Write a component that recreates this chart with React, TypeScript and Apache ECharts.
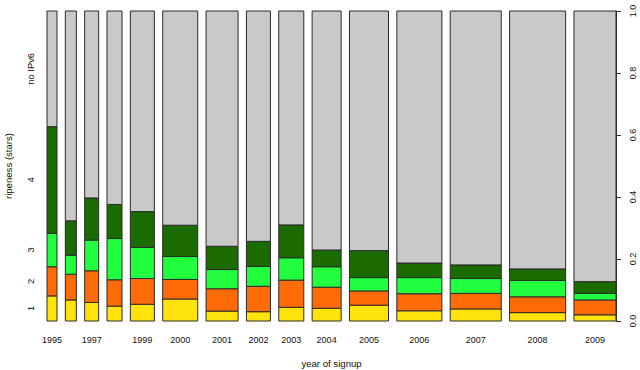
import React, { useEffect, useRef } from "react";
import * as echarts from "echarts";

const years = ["1995","1996","1997","1998","1999","2000","2001","2002","2003","2004","2005","2006","2007","2008","2009"];
const shownYearLabels = ["1995","1997","1999","2000","2001","2002","2003","2004","2005","2006","2007","2008","2009"];
const counts = [10, 11, 14, 15, 24, 35, 32, 24, 25, 29, 39, 45, 51, 56, 42];
const levels = ["1", "2", "3", "4", "no IPv6"];
const share1 = [0.081, 0.068, 0.060, 0.048, 0.054, 0.071, 0.032, 0.030, 0.044, 0.041, 0.051, 0.033, 0.039, 0.027, 0.020];
const share2 = [0.094, 0.083, 0.102, 0.085, 0.083, 0.063, 0.072, 0.082, 0.088, 0.068, 0.046, 0.055, 0.050, 0.051, 0.048];
const share3 = [0.108, 0.061, 0.099, 0.133, 0.100, 0.074, 0.062, 0.064, 0.072, 0.066, 0.043, 0.052, 0.048, 0.053, 0.021];
const share4 = [0.344, 0.111, 0.136, 0.110, 0.116, 0.101, 0.075, 0.081, 0.106, 0.054, 0.087, 0.047, 0.044, 0.037, 0.038];
const shareNo = years.map((_, i) => 1 - share1[i] - share2[i] - share3[i] - share4[i]);
const shares = [share1, share2, share3, share4, shareNo];
const colors = ["#FFE30A", "#FF6B06", "#21FF3F", "#1B6C00", "#C9C9C9"];

const GAP_FRAC = 0.0184;

export default function App() {
  const ref = useRef<HTMLDivElement>(null);
  useEffect(() => {
    document.body.style.margin = "0";
    if (!ref.current) return;
    const chart = echarts.init(ref.current, null, { renderer: "svg" });
    const total = counts.reduce((a, b) => a + b, 0);
    const gap = GAP_FRAC * total;
    const starts: number[] = [];
    let acc = 0;
    counts.forEach((c, i) => {
      starts.push(acc);
      acc += c + (i < counts.length - 1 ? gap : 0);
    });
    const xMax = acc;
    const centers = counts.map((c, i) => starts[i] + c / 2);
    const cells: number[][] = [];
    years.forEach((_, i) => {
      let y0 = 0;
      shares.forEach((s, l) => {
        const y1 = y0 + s[i];
        cells.push([starts[i], starts[i] + counts[i], y0, y1, l]);
        y0 = y1;
      });
    });
    const firstMids: number[] = [];
    {
      let y0 = 0;
      shares.forEach((s) => {
        firstMids.push(y0 + s[0] / 2);
        y0 += s[0];
      });
    }
    const shownCenters = years
      .map((y, i) => (shownYearLabels.includes(y) ? centers[i] : null))
      .filter((v) => v !== null) as number[];
    const font = "Liberation Sans, Arial, sans-serif";
    const txt = "#111";

    chart.setOption({
      animation: false,
      grid: { left: 47, right: 24, top: 11, bottom: 49, outerBoundsMode: "none", containLabel: false },
      xAxis: {
        type: "value",
        min: 0,
        max: xMax,
        axisLine: { show: false },
        axisTick: { show: false },
        splitLine: { show: false },
        axisLabel: {
          customValues: shownCenters,
          margin: 14,
          fontSize: 9,
          fontFamily: font,
          color: txt,
          formatter: (v: number) => {
            const idx = centers.findIndex((c) => Math.abs(c - v) < 1e-6);
            return idx >= 0 ? years[idx] : "";
          },
        },
        name: "year of signup",
        nameLocation: "middle",
        nameGap: 37,
        nameTextStyle: { fontSize: 9.6, fontFamily: font, color: txt },
      },
      yAxis: [
        {
          type: "value",
          min: 0,
          max: 1,
          position: "left",
          axisLine: { show: false },
          axisTick: { show: false },
          splitLine: { show: false },
          axisLabel: {
            customValues: firstMids,
            rotate: 90,
            margin: 12,
            fontSize: 9.4,
            fontFamily: font,
            color: txt,
            formatter: (v: number) => {
              const idx = firstMids.findIndex((c) => Math.abs(c - v) < 1e-6);
              return idx >= 0 ? levels[idx] : "";
            },
          },
          name: "ripeness (stars)",
          nameLocation: "middle",
          nameRotate: 90,
          nameGap: 34,
          nameTextStyle: { fontSize: 9.6, fontFamily: font, color: txt },
        },
        {
          type: "value",
          min: 0,
          max: 1,
          interval: 0.2,
          position: "right",
          axisLine: { show: true, lineStyle: { color: "#333", width: 1 } },
          axisTick: { show: true, length: 5, lineStyle: { color: "#333" } },
          splitLine: { show: false },
          axisLabel: {
            rotate: 90,
            margin: 12,
            fontSize: 9,
            fontFamily: font,
            color: txt,
            formatter: (v: number) => v.toFixed(1),
          },
        },
      ],
      series: [
        {
          type: "custom",
          xAxisIndex: 0,
          yAxisIndex: 0,
          data: cells,
          renderItem: (params: any, api: any) => {
            const x0 = api.value(0);
            const x1 = api.value(1);
            const y0 = api.value(2);
            const y1 = api.value(3);
            const l = api.value(4);
            const p0 = api.coord([x0, y1]);
            const p1 = api.coord([x1, y0]);
            return {
              type: "rect",
              shape: { x: p0[0], y: p0[1], width: p1[0] - p0[0], height: p1[1] - p0[1] },
              style: { fill: colors[l], stroke: "#2a2a2a", lineWidth: 1 },
            };
          },
        },
      ],
    });
    return () => chart.dispose();
  }, []);
  return <div ref={ref} style={{ width: 640, height: 370 }} />;
}
